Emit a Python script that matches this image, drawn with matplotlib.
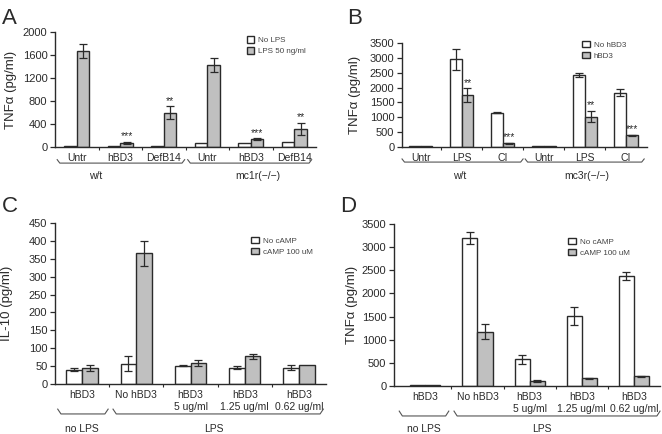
import numpy as np
import matplotlib
matplotlib.use("Agg")
from matplotlib import pyplot as plt

plt.rcParams['font.family'] = ['Liberation Sans', 'DejaVu Sans']

# ---- panel A ----
a_cats = ['Untr', 'hBD3', 'DefB14', 'Untr', 'hBD3', 'DefB14']
a_white = [20, 20, 15, 65, 75, 90]
a_white_err = [0, 0, 0, 0, 0, 0]
a_gray = [1670, 75, 595, 1420, 138, 312]
a_gray_err = [125, 18, 115, 120, 15, 110]
a_stars = ['', '***', '**', '', '***', '**']
a_legend = ['No LPS', 'LPS 50 ng/ml']
a_groups = ['w/t', 'mc1r(\u2212/\u2212)']
a_yticks = [0, 400, 800, 1200, 1600, 2000]

# ---- panel B ----
b_cats = ['Untr', 'LPS', 'CI', 'Untr', 'LPS', 'CI']
b_white = [30, 2950, 1160, 30, 2420, 1830]
b_white_err = [0, 360, 20, 0, 60, 110]
b_gray = [30, 1750, 125, 30, 1025, 390]
b_gray_err = [0, 220, 20, 0, 190, 30]
b_stars = ['', '**', '***', '', '**', '***']
b_legend = ['No hBD3', 'hBD3']
b_groups = ['w/t', 'mc3r(\u2212/\u2212)']
b_yticks = [0, 500, 1000, 1500, 2000, 2500, 3000, 3500]

# ---- panel C ----
c_cats = ['hBD3', 'No hBD3', 'hBD3\n5 ug/ml', 'hBD3\n1.25 ug/ml', 'hBD3\n0.62 ug/ml']
c_white = [40, 57, 51, 45, 46]
c_white_err = [4, 20, 2, 4, 8]
c_gray = [44, 365, 59, 77, 54]
c_gray_err = [9, 35, 9, 7, 0]
c_legend = ['No cAMP', 'cAMP 100 uM']
c_groups = ['no LPS', 'LPS']
c_yticks = [0, 50, 100, 150, 200, 250, 300, 350, 400, 450]

# ---- panel D ----
d_cats = ['hBD3', 'No hBD3', 'hBD3\n5 ug/ml', 'hBD3\n1.25 ug/ml', 'hBD3\n0.62 ug/ml']
d_white = [30, 3200, 578, 1512, 2378]
d_white_err = [0, 125, 95, 200, 90]
d_gray = [30, 1170, 108, 166, 209]
d_gray_err = [0, 165, 20, 10, 15]
d_legend = ['No cAMP', 'cAMP 100 uM']
d_groups = ['no LPS', 'LPS']
d_yticks = [0, 500, 1000, 1500, 2000, 2500, 3000, 3500]

INK = '#2a2a2a'
GRAY = '#c0c0c0'
W = 0.29

fig = plt.figure(figsize=(6.62, 4.34), dpi=100)


def panel(rect, cats, white, werr, gray, gerr, stars, yticks, ylabel, xlim,
          legend, leg_anchor, groups, spans, label_x, br_y, lab_y, ylab_x):
    ax = fig.add_axes(rect)
    x = np.arange(len(cats))
    ax.bar(x - W / 2, white, W, color='white', edgecolor=INK, linewidth=1.0,
           label=legend[0], zorder=2)
    ax.bar(x + W / 2, gray, W, color=GRAY, edgecolor=INK, linewidth=1.0,
           label=legend[1], zorder=2)
    werr = np.array(werr)
    gerr = np.array(gerr)
    m = werr > 0
    ax.errorbar((x - W / 2)[m], np.array(white)[m], yerr=werr[m], fmt='none',
                ecolor=INK, elinewidth=0.9, capsize=3, capthick=0.9, zorder=3)
    m = gerr > 0
    ax.errorbar((x + W / 2)[m], np.array(gray)[m], yerr=gerr[m], fmt='none',
                ecolor=INK, elinewidth=0.9, capsize=3, capthick=0.9, zorder=3)
    top = yticks[-1]
    for i, s in enumerate(stars):
        if s:
            ax.text(x[i] + W / 2, gray[i] + gerr[i] + top * 0.005, s,
                    ha='center', va='bottom', fontsize=7.5, color=INK)
    ax.set_xlim(*xlim)
    ax.set_ylim(0, top)
    ax.set_yticks(yticks)
    ax.set_xticks(x)
    ax.set_xticklabels(cats, fontsize=7.5, color=INK, linespacing=1.3)
    ax.set_xticks(np.arange(len(cats) - 1) + 0.5, minor=True)
    ax.tick_params(axis='x', which='major', length=0, pad=4)
    ax.tick_params(axis='x', which='minor', length=2.5, width=0.8, color=INK)
    ax.tick_params(axis='y', length=3.5, width=0.9, labelsize=8,
                   colors=INK, pad=2)
    for sp in ['top', 'right']:
        ax.spines[sp].set_visible(False)
    for sp in ['left', 'bottom']:
        ax.spines[sp].set_linewidth(1.0)
        ax.spines[sp].set_color(INK)
    ax.set_ylabel(ylabel, fontsize=9.5, color=INK)
    ax.yaxis.set_label_coords(ylab_x, 0.5)
    ax.legend(loc='upper left', bbox_to_anchor=leg_anchor, frameon=False,
              fontsize=5.8, handlelength=0.9, handleheight=0.9,
              handletextpad=0.5, labelspacing=0.35, borderpad=0,
              labelcolor='#444444')
    # group brackets under the axis
    tr = ax.get_xaxis_transform()
    for (x0, x1), gx, g in zip(spans, label_x, groups):
        ax.plot([x0, x0 + 0.06, x1 - 0.06, x1],
                [br_y + 0.03, br_y, br_y, br_y + 0.03],
                transform=tr, color='#555555', lw=0.8, clip_on=False)
        ax.text(gx, lab_y, g, transform=tr, ha='center', va='center',
                fontsize=7.5, color=INK)
    return ax


panel([0.0831, 0.6613, 0.3943, 0.2650], a_cats, a_white, a_white_err, a_gray,
      a_gray_err, a_stars, a_yticks, 'TNF\u03b1 (pg/ml)', (-0.5, 5.5),
      a_legend, (0.72, 1.0), a_groups, [(-0.45, 2.48), (2.55, 5.4)],
      [0.44, 4.17], -0.14, -0.255, -0.146)

panel([0.6073, 0.6613, 0.3701, 0.2396], b_cats, b_white, b_white_err, b_gray,
      b_gray_err, b_stars, b_yticks, 'TNF\u03b1 (pg/ml)', (-0.45, 5.52),
      b_legend, (0.72, 1.06), b_groups, [(-0.45, 2.5), (2.55, 5.45)],
      [0.95, 4.05], -0.145, -0.28, -0.167)

panel([0.0831, 0.1152, 0.4094, 0.3710], c_cats, c_white, c_white_err, c_gray,
      c_gray_err, [''] * 5, c_yticks, 'IL-10 (pg/ml)', (-0.5, 4.5),
      c_legend, (0.71, 0.94), c_groups, [(-0.45, 0.48), (0.57, 4.45)],
      [0.0, 2.43], -0.186, -0.28, -0.155)

panel([0.5952, 0.1106, 0.4018, 0.3733], d_cats, d_white, d_white_err, d_gray,
      d_gray_err, [''] * 5, d_yticks, 'TNF\u03b1 (pg/ml)', (-0.6, 4.5),
      d_legend, (0.64, 0.94), d_groups, [(-0.5, 0.45), (0.55, 4.5)],
      [-0.03, 2.23], -0.185, -0.265, -0.135)

for s, px, py in [('A', 2, 8), ('B', 347, 8), ('C', 2, 196), ('D', 340, 196)]:
    fig.text(px / 662, 1 - py / 434, s, fontsize=16, color=INK,
             ha='left', va='top')

fig.savefig('out.png', dpi=100)
